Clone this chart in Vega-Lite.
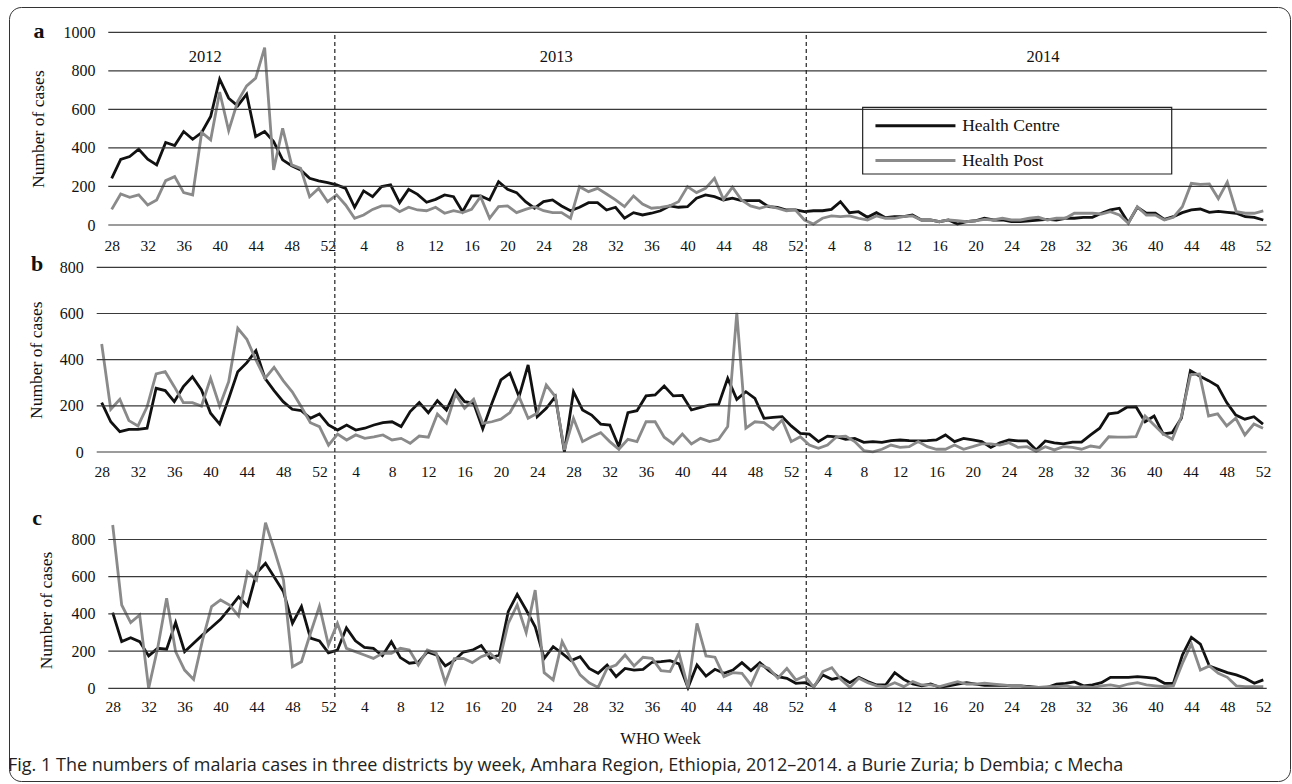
{
"$schema": "https://vega.github.io/schema/vega-lite/v6.json",
"width": 1281, "height": 774,
"padding": {"left": 9, "top": 7, "right": 2, "bottom": 3},
"autosize": {"type": "none"},
"background": "white",
"config": {
  "view": {"stroke": "#333333", "strokeWidth": 1, "cornerRadius": 12},
  "font": "Liberation Serif",
  "axis": {"labelFont": "Liberation Serif", "titleFont": "Liberation Serif", "labelColor": "#111111", "titleColor": "#111111", "titleFontWeight": "normal", "domain": false, "ticks": false, "tickSize": 0, "grid": false, "labelFlush": false, "labelOverlap": false}
},
"title": {"text": "Fig. 1  The numbers of malaria cases in three districts by week, Amhara Region, Ethiopia, 2012–2014. a Burie Zuria; b Dembia; c Mecha", "orient": "bottom", "anchor": "start", "frame": "group", "offset": -10, "baseline": "alphabetic", "font": "Open Sans", "fontSize": 18, "fontWeight": "normal", "color": "#231f20", "dx": -1},
"datasets": {
"a": [
{"t":0,"Health Centre":242,"Health Post":81},{"t":1,"Health Centre":341,"Health Post":161},{"t":2,"Health Centre":355,"Health Post":144},{"t":3,"Health Centre":393,"Health Post":156},{"t":4,"Health Centre":341,"Health Post":104},{"t":5,"Health Centre":312,"Health Post":130},{"t":6,"Health Centre":428,"Health Post":230},{"t":7,"Health Centre":412,"Health Post":251},{"t":8,"Health Centre":485,"Health Post":168},{"t":9,"Health Centre":445,"Health Post":156},
{"t":10,"Health Centre":480,"Health Post":480},{"t":11,"Health Centre":563,"Health Post":442},{"t":12,"Health Centre":757,"Health Post":690},{"t":13,"Health Centre":658,"Health Post":490},{"t":14,"Health Centre":618,"Health Post":641},{"t":15,"Health Centre":679,"Health Post":722},{"t":16,"Health Centre":459,"Health Post":762},{"t":17,"Health Centre":485,"Health Post":921},{"t":18,"Health Centre":433,"Health Post":286},{"t":19,"Health Centre":338,"Health Post":502},
{"t":20,"Health Centre":308,"Health Post":312},{"t":21,"Health Centre":286,"Health Post":294},{"t":22,"Health Centre":242,"Health Post":147},{"t":23,"Health Centre":229,"Health Post":190},{"t":24,"Health Centre":220,"Health Post":121},{"t":25,"Health Centre":208,"Health Post":156},{"t":26,"Health Centre":190,"Health Post":104},{"t":27,"Health Centre":92,"Health Post":35},{"t":28,"Health Centre":177,"Health Post":52},{"t":29,"Health Centre":147,"Health Post":81},
{"t":30,"Health Centre":199,"Health Post":99},{"t":31,"Health Centre":208,"Health Post":99},{"t":32,"Health Centre":116,"Health Post":69},{"t":33,"Health Centre":185,"Health Post":92},{"t":34,"Health Centre":159,"Health Post":78},{"t":35,"Health Centre":118,"Health Post":74},{"t":36,"Health Centre":133,"Health Post":92},{"t":37,"Health Centre":156,"Health Post":61},{"t":38,"Health Centre":147,"Health Post":74},{"t":39,"Health Centre":69,"Health Post":64},
{"t":40,"Health Centre":151,"Health Post":81},{"t":41,"Health Centre":151,"Health Post":147},{"t":42,"Health Centre":130,"Health Post":35},{"t":43,"Health Centre":225,"Health Post":95},{"t":44,"Health Centre":185,"Health Post":99},{"t":45,"Health Centre":168,"Health Post":64},{"t":46,"Health Centre":121,"Health Post":81},{"t":47,"Health Centre":87,"Health Post":95},{"t":48,"Health Centre":121,"Health Post":74},{"t":49,"Health Centre":130,"Health Post":64},
{"t":50,"Health Centre":99,"Health Post":64},{"t":51,"Health Centre":74,"Health Post":35},{"t":52,"Health Centre":92,"Health Post":199},{"t":53,"Health Centre":116,"Health Post":173},{"t":54,"Health Centre":116,"Health Post":190},{"t":55,"Health Centre":78,"Health Post":161},{"t":56,"Health Centre":92,"Health Post":130},{"t":57,"Health Centre":35,"Health Post":95},{"t":58,"Health Centre":64,"Health Post":151},{"t":59,"Health Centre":52,"Health Post":109},
{"t":60,"Health Centre":61,"Health Post":87},{"t":61,"Health Centre":74,"Health Post":92},{"t":62,"Health Centre":99,"Health Post":99},{"t":63,"Health Centre":92,"Health Post":121},{"t":64,"Health Centre":95,"Health Post":199},{"t":65,"Health Centre":139,"Health Post":168},{"t":66,"Health Centre":156,"Health Post":190},{"t":67,"Health Centre":147,"Health Post":242},{"t":68,"Health Centre":130,"Health Post":133},{"t":69,"Health Centre":139,"Health Post":196},
{"t":70,"Health Centre":126,"Health Post":130},{"t":71,"Health Centre":126,"Health Post":99},{"t":72,"Health Centre":126,"Health Post":87},{"t":73,"Health Centre":95,"Health Post":99},{"t":74,"Health Centre":92,"Health Post":87},{"t":75,"Health Centre":78,"Health Post":74},{"t":76,"Health Centre":78,"Health Post":78},{"t":77,"Health Centre":69,"Health Post":26},{"t":78,"Health Centre":74,"Health Post":5},{"t":79,"Health Centre":74,"Health Post":35},
{"t":80,"Health Centre":81,"Health Post":47},{"t":81,"Health Centre":121,"Health Post":43},{"t":82,"Health Centre":64,"Health Post":47},{"t":83,"Health Centre":69,"Health Post":35},{"t":84,"Health Centre":40,"Health Post":26},{"t":85,"Health Centre":64,"Health Post":47},{"t":86,"Health Centre":38,"Health Post":35},{"t":87,"Health Centre":43,"Health Post":35},{"t":88,"Health Centre":43,"Health Post":43},{"t":89,"Health Centre":52,"Health Post":47},
{"t":90,"Health Centre":26,"Health Post":26},{"t":91,"Health Centre":26,"Health Post":26},{"t":92,"Health Centre":17,"Health Post":17},{"t":93,"Health Centre":26,"Health Post":26},{"t":94,"Health Centre":5,"Health Post":22},{"t":95,"Health Centre":17,"Health Post":17},{"t":96,"Health Centre":22,"Health Post":22},{"t":97,"Health Centre":35,"Health Post":29},{"t":98,"Health Centre":26,"Health Post":26},{"t":99,"Health Centre":26,"Health Post":35},
{"t":100,"Health Centre":17,"Health Post":26},{"t":101,"Health Centre":17,"Health Post":26},{"t":102,"Health Centre":22,"Health Post":35},{"t":103,"Health Centre":26,"Health Post":40},{"t":104,"Health Centre":29,"Health Post":26},{"t":105,"Health Centre":26,"Health Post":35},{"t":106,"Health Centre":35,"Health Post":35},{"t":107,"Health Centre":35,"Health Post":61},{"t":108,"Health Centre":40,"Health Post":61},{"t":109,"Health Centre":40,"Health Post":61},
{"t":110,"Health Centre":61,"Health Post":57},{"t":111,"Health Centre":78,"Health Post":69},{"t":112,"Health Centre":87,"Health Post":52},{"t":113,"Health Centre":12,"Health Post":9},{"t":114,"Health Centre":92,"Health Post":95},{"t":115,"Health Centre":61,"Health Post":52},{"t":116,"Health Centre":61,"Health Post":52},{"t":117,"Health Centre":29,"Health Post":26},{"t":118,"Health Centre":43,"Health Post":40},{"t":119,"Health Centre":64,"Health Post":95},
{"t":120,"Health Centre":78,"Health Post":216},{"t":121,"Health Centre":83,"Health Post":211},{"t":122,"Health Centre":66,"Health Post":213},{"t":123,"Health Centre":71,"Health Post":137},{"t":124,"Health Centre":66,"Health Post":223},{"t":125,"Health Centre":61,"Health Post":69},{"t":126,"Health Centre":43,"Health Post":61},{"t":127,"Health Centre":40,"Health Post":61},{"t":128,"Health Centre":26,"Health Post":73}
],
"b": [
{"t":0,"Health Centre":214,"Health Post":468},{"t":1,"Health Centre":131,"Health Post":185},{"t":2,"Health Centre":88,"Health Post":228},{"t":3,"Health Centre":98,"Health Post":136},{"t":4,"Health Centre":98,"Health Post":113},{"t":5,"Health Centre":103,"Health Post":196},{"t":6,"Health Centre":276,"Health Post":338},{"t":7,"Health Centre":266,"Health Post":348},{"t":8,"Health Centre":218,"Health Post":283},{"t":9,"Health Centre":283,"Health Post":214},
{"t":10,"Health Centre":326,"Health Post":214},{"t":11,"Health Centre":269,"Health Post":199},{"t":12,"Health Centre":168,"Health Post":319},{"t":13,"Health Centre":121,"Health Post":199},{"t":14,"Health Centre":232,"Health Post":305},{"t":15,"Health Centre":348,"Health Post":536},{"t":16,"Health Centre":387,"Health Post":488},{"t":17,"Health Centre":439,"Health Post":399},{"t":18,"Health Centre":319,"Health Post":319},{"t":19,"Health Centre":266,"Health Post":367},
{"t":20,"Health Centre":218,"Health Post":309},{"t":21,"Health Centre":185,"Health Post":261},{"t":22,"Health Centre":179,"Health Post":196},{"t":23,"Health Centre":146,"Health Post":127},{"t":24,"Health Centre":165,"Health Post":110},{"t":25,"Health Centre":117,"Health Post":30},{"t":26,"Health Centre":95,"Health Post":78},{"t":27,"Health Centre":117,"Health Post":52},{"t":28,"Health Centre":95,"Health Post":74},{"t":29,"Health Centre":103,"Health Post":59},
{"t":30,"Health Centre":117,"Health Post":66},{"t":31,"Health Centre":127,"Health Post":74},{"t":32,"Health Centre":131,"Health Post":52},{"t":33,"Health Centre":110,"Health Post":59},{"t":34,"Health Centre":175,"Health Post":38},{"t":35,"Health Centre":214,"Health Post":69},{"t":36,"Health Centre":170,"Health Post":64},{"t":37,"Health Centre":222,"Health Post":165},{"t":38,"Health Centre":182,"Health Post":125},{"t":39,"Health Centre":266,"Health Post":251},
{"t":40,"Health Centre":218,"Health Post":189},{"t":41,"Health Centre":211,"Health Post":228},{"t":42,"Health Centre":100,"Health Post":124},{"t":43,"Health Centre":210,"Health Post":131},{"t":44,"Health Centre":312,"Health Post":142},{"t":45,"Health Centre":341,"Health Post":171},{"t":46,"Health Centre":240,"Health Post":240},{"t":47,"Health Centre":377,"Health Post":146},{"t":48,"Health Centre":153,"Health Post":168},{"t":49,"Health Centre":189,"Health Post":290},
{"t":50,"Health Centre":240,"Health Post":240},{"t":51,"Health Centre":1,"Health Post":9},{"t":52,"Health Centre":261,"Health Post":146},{"t":53,"Health Centre":182,"Health Post":45},{"t":54,"Health Centre":160,"Health Post":66},{"t":55,"Health Centre":121,"Health Post":84},{"t":56,"Health Centre":117,"Health Post":45},{"t":57,"Health Centre":23,"Health Post":12},{"t":58,"Health Centre":170,"Health Post":55},{"t":59,"Health Centre":179,"Health Post":45},
{"t":60,"Health Centre":243,"Health Post":131},{"t":61,"Health Centre":247,"Health Post":131},{"t":62,"Health Centre":286,"Health Post":64},{"t":63,"Health Centre":243,"Health Post":35},{"t":64,"Health Centre":245,"Health Post":78},{"t":65,"Health Centre":182,"Health Post":35},{"t":66,"Health Centre":193,"Health Post":59},{"t":67,"Health Centre":204,"Health Post":45},{"t":68,"Health Centre":206,"Health Post":55},{"t":69,"Health Centre":319,"Health Post":110},
{"t":70,"Health Centre":228,"Health Post":603},{"t":71,"Health Centre":261,"Health Post":103},{"t":72,"Health Centre":232,"Health Post":131},{"t":73,"Health Centre":146,"Health Post":127},{"t":74,"Health Centre":150,"Health Post":98},{"t":75,"Health Centre":153,"Health Post":139},{"t":76,"Health Centre":113,"Health Post":45},{"t":77,"Health Centre":81,"Health Post":66},{"t":78,"Health Centre":77,"Health Post":30},{"t":79,"Health Centre":45,"Health Post":16},
{"t":80,"Health Centre":69,"Health Post":30},{"t":81,"Health Centre":66,"Health Post":66},{"t":82,"Health Centre":55,"Health Post":69},{"t":83,"Health Centre":59,"Health Post":45},{"t":84,"Health Centre":42,"Health Post":6},{"t":85,"Health Centre":45,"Health Post":1},{"t":86,"Health Centre":42,"Health Post":12},{"t":87,"Health Centre":49,"Health Post":30},{"t":88,"Health Centre":52,"Health Post":20},{"t":89,"Health Centre":49,"Health Post":23},
{"t":90,"Health Centre":48,"Health Post":45},{"t":91,"Health Centre":49,"Health Post":23},{"t":92,"Health Centre":52,"Health Post":12},{"t":93,"Health Centre":74,"Health Post":12},{"t":94,"Health Centre":45,"Health Post":30},{"t":95,"Health Centre":59,"Health Post":12},{"t":96,"Health Centre":52,"Health Post":23},{"t":97,"Health Centre":45,"Health Post":35},{"t":98,"Health Centre":20,"Health Post":35},{"t":99,"Health Centre":40,"Health Post":30},
{"t":100,"Health Centre":52,"Health Post":40},{"t":101,"Health Centre":48,"Health Post":20},{"t":102,"Health Centre":48,"Health Post":23},{"t":103,"Health Centre":9,"Health Post":3},{"t":104,"Health Centre":48,"Health Post":23},{"t":105,"Health Centre":40,"Health Post":9},{"t":106,"Health Centre":35,"Health Post":23},{"t":107,"Health Centre":43,"Health Post":20},{"t":108,"Health Centre":43,"Health Post":12},{"t":109,"Health Centre":74,"Health Post":26},
{"t":110,"Health Centre":103,"Health Post":20},{"t":111,"Health Centre":165,"Health Post":66},{"t":112,"Health Centre":170,"Health Post":64},{"t":113,"Health Centre":194,"Health Post":64},{"t":114,"Health Centre":196,"Health Post":66},{"t":115,"Health Centre":131,"Health Post":156},{"t":116,"Health Centre":156,"Health Post":117},{"t":117,"Health Centre":78,"Health Post":78},{"t":118,"Health Centre":84,"Health Post":55},{"t":119,"Health Centre":146,"Health Post":153},
{"t":120,"Health Centre":352,"Health Post":334},{"t":121,"Health Centre":329,"Health Post":338},{"t":122,"Health Centre":309,"Health Post":156},{"t":123,"Health Centre":286,"Health Post":165},{"t":124,"Health Centre":214,"Health Post":113},{"t":125,"Health Centre":160,"Health Post":146},{"t":126,"Health Centre":142,"Health Post":74},{"t":127,"Health Centre":153,"Health Post":121},{"t":128,"Health Centre":121,"Health Post":103}
],
"c": [
{"t":0,"Health Centre":407,"Health Post":878},{"t":1,"Health Centre":251,"Health Post":448},{"t":2,"Health Centre":272,"Health Post":353},{"t":3,"Health Centre":251,"Health Post":394},{"t":4,"Health Centre":174,"Health Post":0},{"t":5,"Health Centre":215,"Health Post":215},{"t":6,"Health Centre":210,"Health Post":484},{"t":7,"Health Centre":353,"Health Post":197},{"t":8,"Health Centre":197,"Health Post":98},{"t":9,"Health Centre":242,"Health Post":48},
{"t":10,"Health Centre":287,"Health Post":260},{"t":11,"Health Centre":328,"Health Post":439},{"t":12,"Health Centre":371,"Health Post":475},{"t":13,"Health Centre":430,"Health Post":448},{"t":14,"Health Centre":492,"Health Post":389},{"t":15,"Health Centre":442,"Health Post":627},{"t":16,"Health Centre":620,"Health Post":582},{"t":17,"Health Centre":672,"Health Post":890},{"t":18,"Health Centre":596,"Health Post":740},{"t":19,"Health Centre":519,"Health Post":582},
{"t":20,"Health Centre":350,"Health Post":116},{"t":21,"Health Centre":440,"Health Post":143},{"t":22,"Health Centre":270,"Health Post":296},{"t":23,"Health Centre":255,"Health Post":442},{"t":24,"Health Centre":190,"Health Post":233},{"t":25,"Health Centre":205,"Health Post":349},{"t":26,"Health Centre":325,"Health Post":215},{"t":27,"Health Centre":255,"Health Post":197},{"t":28,"Health Centre":220,"Health Post":179},{"t":29,"Health Centre":215,"Health Post":161},
{"t":30,"Health Centre":175,"Health Post":188},{"t":31,"Health Centre":250,"Health Post":188},{"t":32,"Health Centre":165,"Health Post":215},{"t":33,"Health Centre":135,"Health Post":206},{"t":34,"Health Centre":140,"Health Post":125},{"t":35,"Health Centre":195,"Health Post":206},{"t":36,"Health Centre":180,"Health Post":188},{"t":37,"Health Centre":120,"Health Post":30},{"t":38,"Health Centre":150,"Health Post":160},{"t":39,"Health Centre":195,"Health Post":161},
{"t":40,"Health Centre":205,"Health Post":138},{"t":41,"Health Centre":230,"Health Post":170},{"t":42,"Health Centre":161,"Health Post":188},{"t":43,"Health Centre":179,"Health Post":143},{"t":44,"Health Centre":412,"Health Post":349},{"t":45,"Health Centre":505,"Health Post":448},{"t":46,"Health Centre":421,"Health Post":299},{"t":47,"Health Centre":331,"Health Post":528},{"t":48,"Health Centre":161,"Health Post":84},{"t":49,"Health Centre":224,"Health Post":45},
{"t":50,"Health Centre":188,"Health Post":251},{"t":51,"Health Centre":149,"Health Post":156},{"t":52,"Health Centre":170,"Health Post":72},{"t":53,"Health Centre":107,"Health Post":30},{"t":54,"Health Centre":81,"Health Post":5},{"t":55,"Health Centre":125,"Health Post":107},{"t":56,"Health Centre":63,"Health Post":125},{"t":57,"Health Centre":107,"Health Post":179},{"t":58,"Health Centre":98,"Health Post":120},{"t":59,"Health Centre":102,"Health Post":167},
{"t":60,"Health Centre":140,"Health Post":161},{"t":61,"Health Centre":143,"Health Post":95},{"t":62,"Health Centre":149,"Health Post":90},{"t":63,"Health Centre":131,"Health Post":188},{"t":64,"Health Centre":4,"Health Post":4},{"t":65,"Health Centre":125,"Health Post":349},{"t":66,"Health Centre":66,"Health Post":174},{"t":67,"Health Centre":102,"Health Post":167},{"t":68,"Health Centre":81,"Health Post":63},{"t":69,"Health Centre":98,"Health Post":84},
{"t":70,"Health Centre":138,"Health Post":81},{"t":71,"Health Centre":95,"Health Post":18},{"t":72,"Health Centre":138,"Health Post":125},{"t":73,"Health Centre":95,"Health Post":107},{"t":74,"Health Centre":63,"Health Post":54},{"t":75,"Health Centre":54,"Health Post":107},{"t":76,"Health Centre":27,"Health Post":45},{"t":77,"Health Centre":30,"Health Post":66},{"t":78,"Health Centre":9,"Health Post":5},{"t":79,"Health Centre":72,"Health Post":90},
{"t":80,"Health Centre":48,"Health Post":111},{"t":81,"Health Centre":59,"Health Post":48},{"t":82,"Health Centre":30,"Health Post":5},{"t":83,"Health Centre":59,"Health Post":54},{"t":84,"Health Centre":36,"Health Post":30},{"t":85,"Health Centre":18,"Health Post":13},{"t":86,"Health Centre":18,"Health Post":9},{"t":87,"Health Centre":84,"Health Post":30},{"t":88,"Health Centre":48,"Health Post":9},{"t":89,"Health Centre":23,"Health Post":36},
{"t":90,"Health Centre":13,"Health Post":18},{"t":91,"Health Centre":23,"Health Post":18},{"t":92,"Health Centre":5,"Health Post":9},{"t":93,"Health Centre":13,"Health Post":23},{"t":94,"Health Centre":23,"Health Post":36},{"t":95,"Health Centre":30,"Health Post":23},{"t":96,"Health Centre":23,"Health Post":23},{"t":97,"Health Centre":16,"Health Post":27},{"t":98,"Health Centre":16,"Health Post":23},{"t":99,"Health Centre":16,"Health Post":18},
{"t":100,"Health Centre":13,"Health Post":13},{"t":101,"Health Centre":13,"Health Post":13},{"t":102,"Health Centre":9,"Health Post":5},{"t":103,"Health Centre":5,"Health Post":5},{"t":104,"Health Centre":5,"Health Post":9},{"t":105,"Health Centre":23,"Health Post":9},{"t":106,"Health Centre":27,"Health Post":13},{"t":107,"Health Centre":34,"Health Post":5},{"t":108,"Health Centre":13,"Health Post":9},{"t":109,"Health Centre":18,"Health Post":5},
{"t":110,"Health Centre":30,"Health Post":13},{"t":111,"Health Centre":59,"Health Post":18},{"t":112,"Health Centre":59,"Health Post":9},{"t":113,"Health Centre":59,"Health Post":23},{"t":114,"Health Centre":63,"Health Post":30},{"t":115,"Health Centre":59,"Health Post":18},{"t":116,"Health Centre":54,"Health Post":13},{"t":117,"Health Centre":27,"Health Post":9},{"t":118,"Health Centre":27,"Health Post":13},{"t":119,"Health Centre":179,"Health Post":134},
{"t":120,"Health Centre":274,"Health Post":238},{"t":121,"Health Centre":238,"Health Post":98},{"t":122,"Health Centre":120,"Health Post":120},{"t":123,"Health Centre":102,"Health Post":81},{"t":124,"Health Centre":84,"Health Post":59},{"t":125,"Health Centre":72,"Health Post":13},{"t":126,"Health Centre":54,"Health Post":9},{"t":127,"Health Centre":27,"Health Post":9},{"t":128,"Health Centre":45,"Health Post":9}
]
},
"layer": [
{
  "layer": [
    {"data": {"name": "a"},
     "transform": [{"fold": ["Health Centre", "Health Post"], "as": ["series", "cases"]}],
     "mark": {"type": "line", "strokeWidth": 2.8},
     "encoding": {
       "x": {"field": "t", "type": "quantitative", "scale": {"domain": [0, 128], "range": [102.7, 1254.3], "nice": false, "zero": false},
             "axis": {"orient": "bottom", "offset": -556, "values": [0,4,8,12,16,20,24,28,32,36,40,44,48,52,56,60,64,68,72,76,80,84,88,92,96,100,104,108,112,116,120,124,128], "labelExpr": "'' + (datum.value <= 24 ? datum.value + 28 : datum.value <= 76 ? datum.value - 24 : datum.value - 76)", "labelFont": "Liberation Serif", "labelFontSize": 15.5, "labelPadding": 20, "labelBaseline": "middle", "labelDx": -2, "title": null}},
       "y": {"field": "cases", "type": "quantitative", "scale": {"domain": [0, 1000], "range": [218, 25.3], "nice": false, "zero": false},
             "axis": {"orient": "left", "offset": -99, "values": [0,200,400,600,800,1000], "format": "d", "labelFont": "Liberation Serif", "labelFontSize": 16, "labelPadding": 13, "title": "Number of cases", "titleFont": "Liberation Serif", "titleFontSize": 17.5, "titleAngle": -90, "titleX": -70, "titleY": 121.6, "titleAlign": "center", "titleBaseline": "middle"}},
       "color": {"field": "series", "type": "nominal", "scale": {"domain": ["Health Centre", "Health Post"], "range": ["#111111", "#8a8a8a"]},
                 "legend": {"orient": "none", "legendX": 862.7, "legendY": 110, "title": null, "padding": 0, "symbolType": "M-1,0H15", "symbolSize": 100, "symbolStrokeWidth": 3, "labelFont": "Liberation Serif", "labelFontSize": 17.5, "labelColor": "#111111", "labelOffset": 73, "rowPadding": 15.8}}
     }},
    {"data": {"values": [{"v":0},{"v":200},{"v":400},{"v":600},{"v":800},{"v":1000}]},
     "mark": {"type": "rule", "color": "#3a3a3a", "strokeWidth": 1.2},
     "encoding": {
       "y": {"field": "v", "type": "quantitative", "scale": {"domain": [0, 1000], "range": [218, 25.3], "nice": false, "zero": false}},
       "x": {"datum": -0.38, "type": "quantitative", "scale": {"domain": [0, 128], "range": [102.7, 1254.3], "nice": false, "zero": false}},
       "x2": {"datum": 128.38}
     }},
    {"data": {"values": [{"boundary": 24.8}, {"boundary": 77.2}]},
     "mark": {"type": "rule", "color": "#222222", "strokeWidth": 1.2, "strokeDash": [4, 3]},
     "encoding": {
       "x": {"field": "boundary", "type": "quantitative", "scale": {"domain": [0, 128], "range": [102.7, 1254.3], "nice": false, "zero": false}},
       "y": {"datum": 986, "type": "quantitative", "scale": {"domain": [0, 1000], "range": [218, 25.3], "nice": false, "zero": false}},
       "y2": {"datum": -2449}
     }},
    {"data": {"values": [{"year": "2012", "mid": 10.4}, {"year": "2013", "mid": 49.4}, {"year": "2014", "mid": 103.5}]},
     "mark": {"type": "text", "font": "Liberation Serif", "fontSize": 16.5, "color": "#111111", "baseline": "middle", "align": "center"},
     "encoding": {
       "x": {"field": "mid", "type": "quantitative", "scale": {"domain": [0, 128], "range": [102.7, 1254.3], "nice": false, "zero": false}},
       "y": {"datum": 872, "type": "quantitative", "scale": {"domain": [0, 1000], "range": [218, 25.3], "nice": false, "zero": false}},
       "text": {"field": "year"}
     }},
    {"data": {"values": [{"box": "legend"}]},
     "mark": {"type": "rect", "fill": null, "fillOpacity": 0, "stroke": "#222222", "strokeWidth": 1.2},
     "encoding": {
       "x": {"datum": 83.47, "type": "quantitative", "scale": {"domain": [0, 128], "range": [102.7, 1254.3], "nice": false, "zero": false}},
       "x2": {"datum": 117.82},
       "y": {"datum": 610.8, "type": "quantitative", "scale": {"domain": [0, 1000], "range": [218, 25.3], "nice": false, "zero": false}},
       "y2": {"datum": 264.7}
     }},
    {"data": {"values": [{"panel": "a"}]},
     "mark": {"type": "text", "font": "Liberation Serif", "fontSize": 22, "fontWeight": "bold", "color": "#111111", "baseline": "alphabetic", "align": "center"},
     "encoding": {
       "x": {"datum": -8.08, "type": "quantitative", "scale": {"domain": [0, 128], "range": [102.7, 1254.3], "nice": false, "zero": false}},
       "y": {"datum": 969, "type": "quantitative", "scale": {"domain": [0, 1000], "range": [218, 25.3], "nice": false, "zero": false}},
       "text": {"field": "panel"}
     }}
  ]
},
{
  "layer": [
    {"data": {"name": "b"},
     "transform": [{"fold": ["Health Centre", "Health Post"], "as": ["series", "cases"]}],
     "mark": {"type": "line", "strokeWidth": 2.8},
     "encoding": {
       "x": {"field": "t", "type": "quantitative", "scale": {"domain": [0, 128], "range": [92.7, 1254], "nice": false, "zero": false},
             "axis": {"orient": "bottom", "offset": -329, "values": [0,4,8,12,16,20,24,28,32,36,40,44,48,52,56,60,64,68,72,76,80,84,88,92,96,100,104,108,112,116,120,124,128], "labelExpr": "'' + (datum.value <= 24 ? datum.value + 28 : datum.value <= 76 ? datum.value - 24 : datum.value - 76)", "labelFont": "Liberation Serif", "labelFontSize": 15.5, "labelPadding": 19.7, "labelBaseline": "middle", "title": null}},
       "y": {"field": "cases", "type": "quantitative", "scale": {"domain": [0, 800], "range": [445, 260.3], "nice": false, "zero": false},
             "axis": {"orient": "left", "offset": -87.7, "values": [0,200,400,600,800], "format": "d", "labelFont": "Liberation Serif", "labelFontSize": 16, "labelPadding": 13.4, "title": "Number of cases", "titleFont": "Liberation Serif", "titleFontSize": 17.5, "titleAngle": -90, "titleX": -59.7, "titleY": 352.7, "titleAlign": "center", "titleBaseline": "middle"}},
       "color": {"field": "series", "type": "nominal", "scale": {"domain": ["Health Centre", "Health Post"], "range": ["#111111", "#8a8a8a"]}}
     }},
    {"data": {"values": [{"v":0},{"v":200},{"v":400},{"v":600},{"v":800}]},
     "mark": {"type": "rule", "color": "#3a3a3a", "strokeWidth": 1.2},
     "encoding": {
       "y": {"field": "v", "type": "quantitative", "scale": {"domain": [0, 800], "range": [445, 260.3], "nice": false, "zero": false}},
       "x": {"datum": -0.55, "type": "quantitative", "scale": {"domain": [0, 128], "range": [92.7, 1254], "nice": false, "zero": false}},
       "x2": {"datum": 128.4}
     }},
    {"data": {"values": [{"panel": "b"}]},
     "mark": {"type": "text", "font": "Liberation Serif", "fontSize": 22, "fontWeight": "bold", "color": "#111111", "baseline": "alphabetic", "align": "center"},
     "encoding": {
       "x": {"datum": -7.13, "type": "quantitative", "scale": {"domain": [0, 128], "range": [92.7, 1254], "nice": false, "zero": false}},
       "y": {"datum": 785, "type": "quantitative", "scale": {"domain": [0, 800], "range": [445, 260.3], "nice": false, "zero": false}},
       "text": {"field": "panel"}
     }}
  ]
},
{
  "layer": [
    {"data": {"name": "c"},
     "transform": [{"fold": ["Health Centre", "Health Post"], "as": ["series", "cases"]}],
     "mark": {"type": "line", "strokeWidth": 2.8},
     "encoding": {
       "x": {"field": "t", "type": "quantitative", "scale": {"domain": [0, 128], "range": [103.7, 1254.3], "nice": false, "zero": false},
             "axis": {"orient": "bottom", "offset": -92.7, "values": [0,4,8,12,16,20,24,28,32,36,40,44,48,52,56,60,64,68,72,76,80,84,88,92,96,100,104,108,112,116,120,124,128], "labelExpr": "'' + (datum.value <= 24 ? datum.value + 28 : datum.value <= 76 ? datum.value - 24 : datum.value - 76)", "labelFont": "Liberation Serif", "labelFontSize": 15.5, "labelPadding": 18.4, "labelBaseline": "middle", "title": "WHO Week", "titleFont": "Liberation Serif", "titleFontSize": 16.5, "titleX": 651, "titleY": 50, "titleAlign": "center", "titleBaseline": "middle"}},
       "y": {"field": "cases", "type": "quantitative", "scale": {"domain": [0, 800], "range": [681.3, 532.5], "nice": false, "zero": false},
             "axis": {"orient": "left", "offset": -99.3, "values": [0,200,400,600,800], "format": "d", "labelFont": "Liberation Serif", "labelFontSize": 16, "labelPadding": 13.3, "title": "Number of cases", "titleFont": "Liberation Serif", "titleFontSize": 17.5, "titleAngle": -90, "titleX": -61.8, "titleY": 603, "titleAlign": "center", "titleBaseline": "middle"}},
       "color": {"field": "series", "type": "nominal", "scale": {"domain": ["Health Centre", "Health Post"], "range": ["#111111", "#8a8a8a"]}}
     }},
    {"data": {"values": [{"v":0},{"v":200},{"v":400},{"v":600},{"v":800}]},
     "mark": {"type": "rule", "color": "#3a3a3a", "strokeWidth": 1.2},
     "encoding": {
       "y": {"field": "v", "type": "quantitative", "scale": {"domain": [0, 800], "range": [681.3, 532.5], "nice": false, "zero": false}},
       "x": {"datum": -0.49, "type": "quantitative", "scale": {"domain": [0, 128], "range": [103.7, 1254.3], "nice": false, "zero": false}},
       "x2": {"datum": 128.38}
     }},
    {"data": {"values": [{"panel": "c"}]},
     "mark": {"type": "text", "font": "Liberation Serif", "fontSize": 22, "fontWeight": "bold", "color": "#111111", "baseline": "alphabetic", "align": "center"},
     "encoding": {
       "x": {"datum": -8.4, "type": "quantitative", "scale": {"domain": [0, 128], "range": [103.7, 1254.3], "nice": false, "zero": false}},
       "y": {"datum": 878, "type": "quantitative", "scale": {"domain": [0, 800], "range": [681.3, 532.5], "nice": false, "zero": false}},
       "text": {"field": "panel"}
     }}
  ]
}
],
"resolve": {"scale": {"x": "independent", "y": "independent"}, "axis": {"x": "independent", "y": "independent"}}
}
